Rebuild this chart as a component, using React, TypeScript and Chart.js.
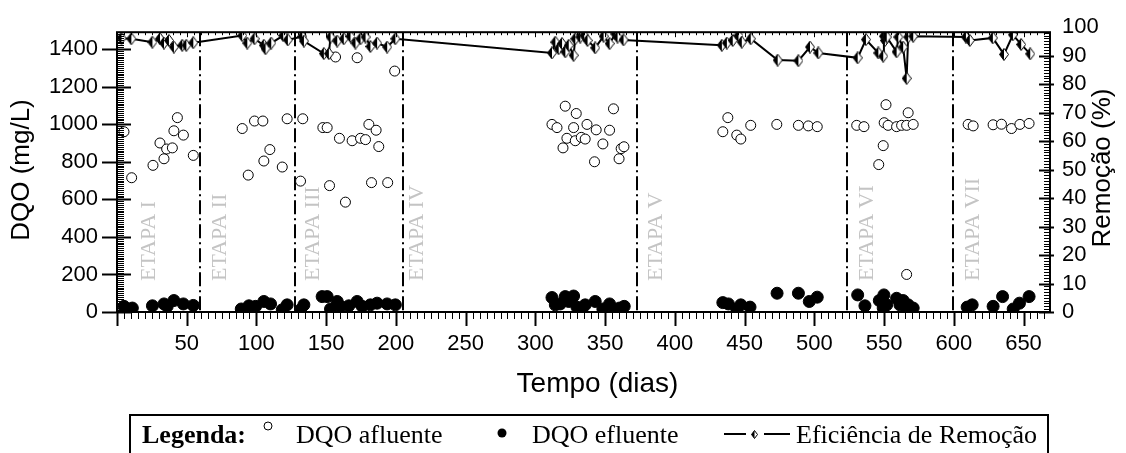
import React, { useEffect, useRef } from 'react';
import { Chart, registerables } from 'chart.js';

Chart.register(...registerables);

// Tempo de operação (dias) e DQO do afluente (mg/L)
const afluenteDias = [
  5, 10.5, 25.8, 30.8, 33.7, 35.6, 39.7, 40.8, 43.3, 47.6, 54.7,
  89.8, 94.1, 98.6, 104.6, 105.3, 109.6, 118.5, 122,
  131.6, 133.2, 147.6, 150.7, 152.4, 156.7, 159.5, 163.8, 168.6, 172.2, 174.6, 178.2, 180.6, 182.5, 185.8, 187.7, 194.1, 199.1,
  311.9, 315.5, 319.8, 321.4, 322.6, 327.4, 328.6, 329.3, 332.9, 335.7, 337, 342.4, 343.6, 348.4, 353.2, 356, 360, 361.5, 363.5,
  434.4, 438, 444.4, 447.3, 454.4, 473.1, 488.6, 495.7, 502.1,
  530.4, 535.6, 546.2, 549.4, 550.1, 551.4, 552.9, 559, 562.6, 566.2, 566.2, 567.3, 570.9,
  610.3, 613.9, 628.2, 634.2, 641.4, 647.4, 654,
];
const afluenteDQO = [
  960, 715, 781, 900, 816, 868, 874, 965, 1035, 942, 834,
  977, 729, 1017, 1017, 804, 865, 772, 1029,
  697, 1029, 982, 982, 673, 1358, 925, 585, 912, 1354, 925, 918, 999, 689, 968, 881, 689, 1283,
  999, 982, 874, 1096, 925, 982, 912, 1057, 930, 921, 999, 800, 970, 895, 968, 1082, 816, 870, 880,
  960, 1035, 942, 921, 994, 999, 994, 991, 987,
  994, 987, 785, 886, 1008, 1104, 994, 987, 994, 200, 994, 1061, 999,
  999, 991, 997, 1000, 977, 999, 1004,
];

// DQO do efluente (mg/L)
const efluenteDias = [
  5, 11, 25.4, 33.7, 36, 40.8, 47.6, 54.7,
  89.1, 94.6, 99.4, 105.3, 110.1, 118.5, 122,
  131.6, 134, 147.1, 150.7, 153.1, 157.9, 160.3, 166.2, 172.2, 175.8, 181.7, 186.5, 193.7, 199.6,
  311.9, 314.3, 317.8, 321.4, 323.9, 327.4, 329.8, 333.4, 335.7, 342.9, 348.4, 353.2, 357.3, 360.3, 363.7,
  434.4, 438.4, 444.4, 447.3, 453.9, 473.3, 488.6, 496.4, 502.1,
  531.1, 536.3, 546.6, 549.4, 549.9, 551.9, 559, 561.4, 563.7, 566.2, 567.3, 570.9,
  609.6, 613.2, 628.2, 635, 642.6, 647.1, 654,
];
const efluenteDQO = [
  30, 21, 33, 43, 30, 61, 43, 35,
  16, 33, 30, 56, 43, 12, 38,
  12, 38, 82, 82, 16, 56, 30, 33, 56, 30, 38, 47, 43, 38,
  77, 38, 43, 82, 56, 85, 26, 16, 38, 56, 16, 43, 12, 21, 30,
  50, 43, 16, 38, 26, 100, 100, 56, 79,
  91, 33, 61, 21, 91, 38, 73, 38, 61, 16, 38, 21,
  26, 38, 30, 82, 16, 47, 82,
];

// Eficiência de remoção de DQO (%)
const eficienciaDias = [
  3.2, 10.3, 25.4, 30.8, 33.7, 37.2, 40.8, 46.8, 49.7, 54.7,
  89.8, 93.4, 98.6, 105.3, 106.5, 110.6, 119.2, 122.5,
  132.8, 134, 148.3, 151.9, 153.1, 157.9, 162.6, 167.4, 171, 174.6, 178.2, 181.7, 186.5, 193.7, 199.6,
  311.9, 314.3, 316.7, 319.1, 321.5, 323.9, 327.4, 328.6, 332.2, 335, 337.4, 342.9, 348.9, 353.2, 357.3, 358.9, 363.2,
  433.7, 437.3, 441.5, 445.6, 448, 454.4, 473.7, 488.6, 496.9, 502.9,
  531.1, 537, 545.9, 549.4, 549.9, 550.6, 551.9, 559, 560.2, 563.7, 566.2, 567.3, 570.9,
  608.7, 611.5, 628, 636, 642.4, 648.3, 654.8,
];
const eficienciaPct = [
  96.1, 95.9, 94.7, 95.9, 94.4, 95.3, 93.0, 93.6, 93.6, 94.5,
  97.0, 94.4, 95.9, 93.6, 92.4, 94.4, 97.0, 95.5,
  96.7, 95.1, 90.7, 90.7, 96.5, 95.1, 95.9, 96.7, 94.4, 95.9, 96.5, 93.2, 94.4, 93.0, 95.9,
  90.9, 94.7, 92.4, 94.2, 91.3, 93.6, 90.1, 95.9, 96.5, 97.0, 95.3, 92.7, 96.8, 94.2, 97.6, 96.5, 95.5,
  93.6, 94.4, 95.3, 97.0, 94.7, 95.9, 88.4, 88.2, 93.0, 90.9,
  89.2, 95.6, 90.9, 89.8, 96.8, 95.3, 96.5, 91.3, 96.5, 93.0, 82, 96.5, 96.8,
  96.5, 95.3, 96.2, 90.4, 97.3, 93.9, 90.6,
];

// Divisão das etapas operacionais (dia de início de cada nova etapa)
const etapaInicio = [59.3, 127.4, 205.3, 372.9, 523.6, 599.5];
const etapaNomes = ['ETAPA I', 'ETAPA II', 'ETAPA III', 'ETAPA IV', 'ETAPA V', 'ETAPA VI', 'ETAPA VII'];
const etapaRotuloDia = [23.4, 74.3, 141, 215.4, 386.5, 537.7, 613.6];

// Marcas dos eixos
const tempoTicks = [50, 100, 150, 200, 250, 300, 350, 400, 450, 500, 550, 600, 650];
const dqoTicks = [0, 200, 400, 600, 800, 1000, 1200, 1400];
const remocaoTicks = [0, 10, 20, 30, 40, 50, 60, 70, 80, 90, 100];

const SANS = "'Liberation Sans', Arial, Helvetica, sans-serif";
const SERIF = "'Liberation Serif', 'Times New Roman', Times, serif";

function diamondMarker(w: number, h: number): HTMLCanvasElement {
  const c = document.createElement('canvas');
  c.width = w;
  c.height = h;
  const g = c.getContext('2d')!;
  const cx = w / 2;
  const cy = h / 2;
  const outline = () => {
    g.beginPath();
    g.moveTo(cx, 0.5);
    g.lineTo(w - 0.5, cy);
    g.lineTo(cx, h - 0.5);
    g.lineTo(0.5, cy);
    g.closePath();
  };
  outline();
  g.fillStyle = '#fff';
  g.fill();
  g.beginPath();
  g.moveTo(cx, 0.5);
  g.lineTo(cx, h - 0.5);
  g.lineTo(0.5, cy);
  g.closePath();
  g.fillStyle = '#000';
  g.fill();
  outline();
  g.strokeStyle = '#000';
  g.lineWidth = 1;
  g.stroke();
  return c;
}

function line(ctx: CanvasRenderingContext2D, x1: number, y1: number, x2: number, y2: number) {
  ctx.beginPath();
  ctx.moveTo(x1, y1);
  ctx.lineTo(x2, y2);
  ctx.stroke();
}

const moldura = {
  id: 'moldura',
  beforeDatasetsDraw(chart: any) {
    const { ctx, chartArea: a, scales } = chart;
    const x = scales.x;
    ctx.save();
    // linhas de separação das etapas
    ctx.strokeStyle = '#000';
    ctx.lineWidth = 2;
    ctx.setLineDash([14, 4, 2, 4]);
    etapaInicio.forEach((d) => {
      const px = Math.round(x.getPixelForValue(d));
      line(ctx, px, a.top, px, a.bottom);
    });
    ctx.setLineDash([]);
    // nomes das etapas
    ctx.fillStyle = '#c4c4c4';
    ctx.font = `22px ${SERIF}`;
    ctx.textAlign = 'left';
    ctx.textBaseline = 'middle';
    etapaNomes.forEach((nome, i) => {
      const px = x.getPixelForValue(etapaRotuloDia[i]);
      ctx.save();
      ctx.translate(px, a.bottom - 31);
      ctx.rotate(-Math.PI / 2);
      ctx.fillText(nome, 0, 0);
      ctx.restore();
    });
    ctx.restore();
  },
  afterDraw(chart: any) {
    const { ctx, chartArea: a, scales } = chart;
    const x = scales.x;
    const y = scales.y;
    const y2 = scales.y2;
    ctx.save();
    ctx.strokeStyle = '#000';
    ctx.fillStyle = '#000';

    // quadro do gráfico
    ctx.lineWidth = 2;
    ctx.strokeRect(a.left, a.top, a.right - a.left, a.bottom - a.top);

    // eixo do tempo (inferior e superior)
    for (let v = 0; v <= x.max; v += 5) {
      const px = Math.round(x.getPixelForValue(v)) + 0.5;
      const major = v % 50 === 0;
      ctx.lineWidth = major ? 2 : 1;
      line(ctx, px, a.bottom, px, a.bottom + (major ? 14 : 7));
      ctx.lineWidth = 1;
      line(ctx, px, a.top, px, a.top + (major ? 5 : 3));
    }

    // eixo de DQO (esquerda)
    for (let v = 0; v <= y.max; v += 10) {
      const py = Math.round(y.getPixelForValue(v)) + 0.5;
      if (v % 200 === 0) {
        ctx.lineWidth = 2;
        line(ctx, a.left - 15, py, a.left + 14, py);
      } else {
        ctx.lineWidth = 1;
        line(ctx, a.left, py, a.left + 7, py);
      }
    }

    // eixo de remoção (direita)
    for (let v = 0; v <= y2.max; v += 1) {
      const py = Math.round(y2.getPixelForValue(v)) + 0.5;
      if (v % 10 === 0) {
        ctx.lineWidth = 2;
        line(ctx, a.right - 11, py, a.right + 4, py);
      } else {
        ctx.lineWidth = 1;
        line(ctx, a.right - 6, py, a.right, py);
      }
    }

    // títulos dos eixos
    ctx.textAlign = 'center';
    ctx.textBaseline = 'middle';
    ctx.font = `28px ${SANS}`;
    ctx.fillText('Tempo (dias)', (a.left + a.right) / 2 + 14, 384);
    ctx.font = `26px ${SANS}`;
    ctx.save();
    ctx.translate(22, 170);
    ctx.rotate(-Math.PI / 2);
    ctx.fillText('DQO (mg/L)', 0, 0);
    ctx.restore();
    ctx.save();
    ctx.translate(1103, 168);
    ctx.rotate(-Math.PI / 2);
    ctx.fillText('Remoção (%)', 0, 0);
    ctx.restore();

    // legenda
    const topo = 415;
    const base = 443;
    ctx.lineWidth = 2;
    ctx.strokeRect(130, topo, 918, 60);
    ctx.textAlign = 'left';
    ctx.textBaseline = 'alphabetic';
    ctx.font = `bold 26px ${SERIF}`;
    ctx.fillText('Legenda:', 142, base);
    ctx.font = `26px ${SERIF}`;
    ctx.lineWidth = 1;
    ctx.beginPath();
    ctx.arc(268, 426, 4, 0, Math.PI * 2);
    ctx.stroke();
    ctx.fillText('DQO afluente', 296, base);
    ctx.beginPath();
    ctx.arc(502, 433, 4.5, 0, Math.PI * 2);
    ctx.fill();
    ctx.fillText('DQO efluente', 532, base);
    ctx.lineWidth = 2;
    line(ctx, 724, 434, 746, 434);
    line(ctx, 764, 434, 790, 434);
    ctx.drawImage(diamondMarker(7, 9), 751, 430);
    ctx.fillText('Eficiência de Remoção', 796, base);

    ctx.restore();
  },
};

const tickFont = { family: SANS, size: 22 };

export default function App() {
  const ref = useRef<HTMLCanvasElement | null>(null);

  useEffect(() => {
    if (!ref.current) return;
    const diamante = diamondMarker(10, 13);
    const chart = new Chart(ref.current, {
      type: 'scatter',
      data: {
        datasets: [
          {
            label: 'Eficiência de Remoção',
            data: eficienciaDias.map((d, i) => ({ x: d, y: eficienciaPct[i] })),
            yAxisID: 'y2',
            showLine: true,
            borderColor: '#000',
            borderWidth: 2,
            pointStyle: diamante as any,
            pointRadius: 5,
            tension: 0,
            order: 0,
          },
          {
            label: 'DQO afluente',
            data: afluenteDias.map((d, i) => ({ x: d, y: afluenteDQO[i] })),
            yAxisID: 'y',
            pointStyle: 'circle',
            pointRadius: 5,
            pointBackgroundColor: '#fff',
            pointBorderColor: '#000',
            pointBorderWidth: 1,
            order: 1,
          },
          {
            label: 'DQO efluente',
            data: efluenteDias.map((d, i) => ({ x: d, y: efluenteDQO[i] })),
            yAxisID: 'y',
            pointStyle: 'circle',
            pointRadius: 6,
            pointBackgroundColor: '#000',
            pointBorderColor: '#000',
            pointBorderWidth: 1,
            order: 2,
          },
        ],
      },
      options: {
        responsive: false,
        animation: false,
        events: [],
        layout: { padding: { top: 28, left: 0, right: 0, bottom: 0 } },
        plugins: {
          legend: { display: false },
          tooltip: { enabled: false },
          title: { display: false },
        },
        scales: {
          x: {
            type: 'linear',
            position: 'bottom',
            min: 0,
            max: 669,
            grid: { display: false, drawTicks: false },
            border: { display: false },
            afterBuildTicks: (s: any) => {
              s.ticks = tempoTicks.map((v) => ({ value: v }));
            },
            afterFit: (s: any) => {
              s.height = 141;
            },
            ticks: {
              font: tickFont,
              color: '#000',
              padding: 19,
              autoSkip: false,
              maxRotation: 0,
              callback: (v: any) => `${v}`,
            },
          },
          y: {
            type: 'linear',
            position: 'left',
            min: 0,
            max: 1490,
            grid: { display: false, drawTicks: false },
            border: { display: false },
            afterBuildTicks: (s: any) => {
              s.ticks = dqoTicks.map((v) => ({ value: v }));
            },
            afterFit: (s: any) => {
              s.width = 117;
            },
            ticks: {
              font: tickFont,
              color: '#000',
              padding: 19,
              autoSkip: false,
              callback: (v: any) => `${v}`,
            },
          },
          y2: {
            type: 'linear',
            position: 'right',
            min: 0,
            max: 98.2,
            grid: { display: false, drawTicks: false },
            border: { display: false },
            afterBuildTicks: (s: any) => {
              s.ticks = remocaoTicks.map((v) => ({ value: v }));
            },
            afterFit: (s: any) => {
              s.width = 76;
            },
            ticks: {
              font: tickFont,
              color: '#000',
              padding: 12,
              autoSkip: false,
              callback: (v: any) => `${v}`,
            },
          },
        },
      },
      plugins: [moldura],
    });
    return () => chart.destroy();
  }, []);

  return (
    <div style={{ position: 'absolute', left: 0, top: 0, width: 1126, height: 453, background: '#fff' }}>
      <canvas ref={ref} width={1126} height={453} style={{ display: 'block' }} />
    </div>
  );
}
